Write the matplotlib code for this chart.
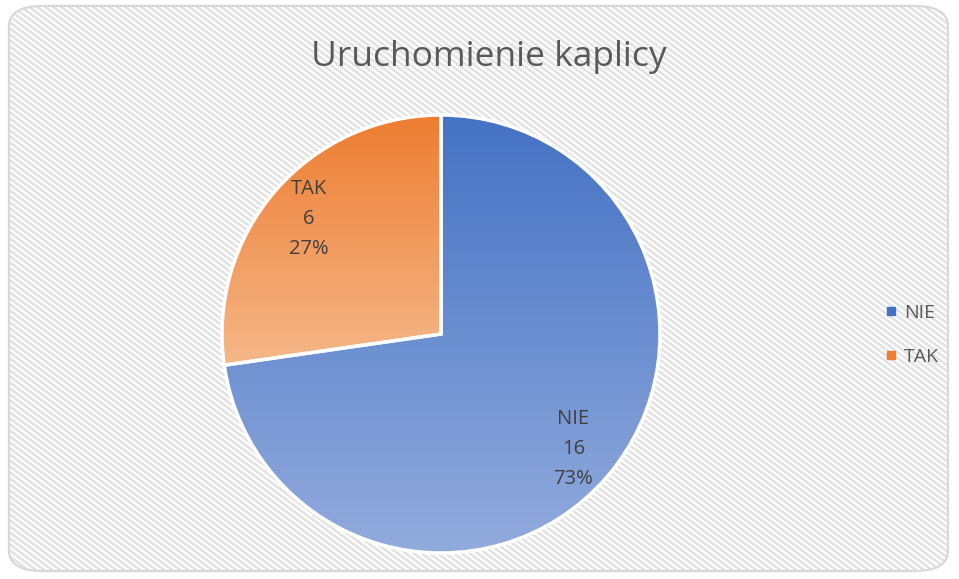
import matplotlib
matplotlib.use("Agg")
import matplotlib.pyplot as plt
import numpy as np
from matplotlib.patches import FancyBboxPatch
from matplotlib.colors import LinearSegmentedColormap
from matplotlib.lines import Line2D
from matplotlib.collections import LineCollection
from matplotlib.transforms import IdentityTransform

categories = ["NIE", "TAK"]
values = [16, 6]
title = "Uruchomienie kaplicy"

top_colors = ["#4472C4", "#ED7D31"]
bottom_colors = ["#92ABDD", "#F5B788"]

W, H = 959, 579
fig = plt.figure(figsize=(W / 100, H / 100), dpi=100)
fig.patch.set_facecolor("white")

# background with stripes and rounded border
bg = FancyBboxPatch((9 / W, 8 / H), (W - 20) / W, (H - 14) / H,
                    boxstyle="round,pad=0,rounding_size=0.035",
                    transform=fig.transFigure, facecolor="white",
                    edgecolor="none", linewidth=0, zorder=-10)
fig.patches.append(bg)
slope, period = 0.75, 8.0
segs = []
for c in np.arange(0, H + slope * W + period, slope * period):
    segs.append([(0, c), (W, c - slope * W)])
stripes = LineCollection(segs, colors="#E3E3E3", linewidths=1.9,
                         transform=IdentityTransform(), zorder=-9.5)
stripes.set_clip_path(bg)
fig.add_artist(stripes)
border = FancyBboxPatch((9 / W, 8 / H), (W - 20) / W, (H - 14) / H,
                        boxstyle="round,pad=0,rounding_size=0.035",
                        transform=fig.transFigure, facecolor="none",
                        edgecolor="#D9D9D9", linewidth=1.6, zorder=-9)
fig.patches.append(border)

cx, cy, r = 441, H - 334, 219
ax = fig.add_axes([(cx - r) / W, (cy - r) / H, 2 * r / W, 2 * r / H])
ax.set_zorder(1)
ax.patch.set_visible(False)
ax.set_xlim(-1, 1)
ax.set_ylim(-1, 1)
ax.axis("off")

total = sum(values)
labels = [f"{c}\n{v}\n{round(v / total * 100)}%" for c, v in zip(categories, values)]
wedges, texts = ax.pie(values, startangle=90, counterclock=False, radius=1,
                       labels=labels, labeldistance=0.80,
                       colors=["none", "none"],
                       wedgeprops=dict(edgecolor="white", linewidth=2.5),
                       textprops=dict(fontsize=14.5, color="#404040",
                                      family=["Open Sans", "DejaVu Sans"],
                                      ha="center", va="center",
                                      linespacing=1.68))
for t in texts:
    t.set_ha("center")
    t.set_zorder(5)

for w, c0, c1 in zip(wedges, top_colors, bottom_colors):
    path = w.get_path().transformed(w.get_patch_transform())
    ext = path.get_extents()
    cmap = LinearSegmentedColormap.from_list("g", [c1, c0])
    grad = np.linspace(0, 1, 256).reshape(-1, 1)
    im = ax.imshow(grad, cmap=cmap, origin="lower", aspect="auto",
                   extent=[ext.x0, ext.x1, ext.y0, ext.y1], zorder=1)
    im.set_clip_path(w)
    w.set_zorder(2)
ax.set_xlim(-1, 1)
ax.set_ylim(-1, 1)
ax.set_aspect("auto")

fig.text(489 / W, 1 - 57 / H, title, ha="center", va="center",
         fontsize=25.5, color="#595959", family=["Open Sans", "DejaVu Sans"])

handles = [Line2D([], [], marker="s", linestyle="none", markersize=6,
                  markerfacecolor=c, markeredgecolor=c) for c in top_colors]
fig.legend(handles, categories, loc="center left",
           bbox_to_anchor=(864 / W, 1 - 335 / H), frameon=False,
           labelcolor="#595959", handletextpad=0.15,
           labelspacing=1.35, handlelength=1.0,
           prop=dict(family=["Open Sans", "DejaVu Sans"], size=14))

fig.savefig("out.png", dpi=100, facecolor="white")
